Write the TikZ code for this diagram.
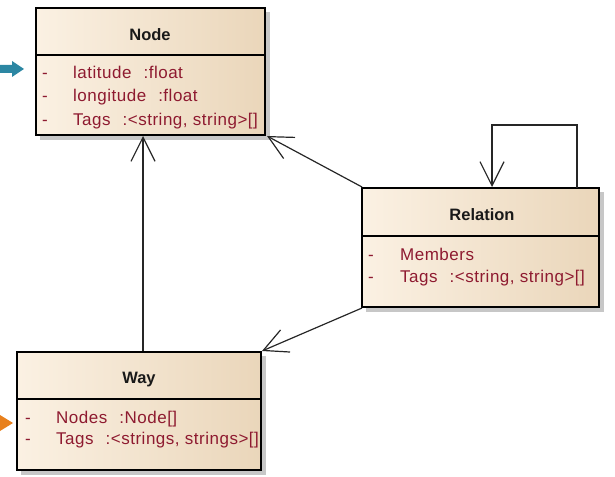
\documentclass[tikz,border=0pt]{standalone}
\usepackage{fontspec}
\setmainfont{Liberation Sans}
\newfontfamily\attrfont[LetterSpace=3]{Liberation Sans}
\usetikzlibrary{arrows.meta,calc}
\definecolor{attr}{HTML}{8E1A30}
\definecolor{boxL}{HTML}{FBF1E3}
\definecolor{boxR}{HTML}{EAD6BA}
\definecolor{teal}{HTML}{2C87A3}
\definecolor{orng}{HTML}{E8801C}
\newcommand{\gapsp}{\hspace{12pt}}
\tikzset{
  shadowbox/.style={fill=black!22, draw=none},
  hdr/.style={font=\fontsize{16.5}{19}\selectfont\bfseries, text=black!90, inner sep=0pt, anchor=base},
  attrtxt/.style={font=\attrfont\fontsize{17}{20}\selectfont, text=attr, anchor=base west, inner sep=0pt},
  assoc/.style={draw=black!85, line width=1.2pt, -{Straight Barb[length=24pt,width=24pt,line width=1.2pt]}},
}
\begin{document}
\begin{tikzpicture}[x=1pt,y=-1pt]
\useasboundingbox (0,0) rectangle (615,476);
% Node class
\fill[shadowbox] (40,12) rectangle (270,140);
\shade[left color=boxL, right color=boxR] (36,8) rectangle (265,135);
\draw[line width=1.3pt] (36,8) rectangle (265,135);
\draw[line width=1.3pt] (36,55) -- (265,55);
\node[hdr] (nodeH) at (150,41) {Node};
\node[attrtxt] (n1d) at (42,79) {-};
\node[attrtxt] (n1) at (73,79) {latitude\gapsp:float};
\node[attrtxt] (n2d) at (42,102) {-};
\node[attrtxt] (n2) at (73,102) {longitude\gapsp:float};
\node[attrtxt] (n3d) at (42,125) {-};
\node[attrtxt] (n3) at (73,125) {Tags\gapsp:<string, string>[]};
\coordinate (nodeBot) at (143,136);
\coordinate (nodeBR) at (267,136);
% Relation class
\fill[shadowbox] (366,192) rectangle (604,312);
\shade[left color=boxL, right color=boxR] (362,188) rectangle (599,307);
\draw[line width=1.3pt] (362,188) rectangle (599,307);
\draw[line width=1.3pt] (362,236) -- (599,236);
\node[hdr] (relH) at (482,220) {Relation};
\node[attrtxt] (r1d) at (368,260) {-};
\node[attrtxt] (r1) at (400,260) {Members};
\node[attrtxt] (r2d) at (368,282) {-};
\node[attrtxt] (r2) at (400,282) {Tags\gapsp:<string, string>[]};
\coordinate (relTL) at (362,187);
\coordinate (relBL) at (362,308);
\coordinate (relTopR) at (577,188);
\coordinate (relTopL) at (492,187);
\coordinate (loopR) at (577,125);
\coordinate (loopL) at (492,125);
% Way class
\fill[shadowbox] (21,356) rectangle (266,475);
\shade[left color=boxL, right color=boxR] (17,352) rectangle (261,470);
\draw[line width=1.3pt] (17,352) rectangle (261,470);
\draw[line width=1.3pt] (17,399) -- (261,399);
\node[hdr] (wayH) at (139,383) {Way};
\node[attrtxt] (w1d) at (25,423) {-};
\node[attrtxt] (w1) at (56,423) {Nodes\gapsp:Node[]};
\node[attrtxt] (w2d) at (25,444) {-};
\node[attrtxt] (w2) at (56,444) {Tags\gapsp:<strings, strings>[]};
\coordinate (wayTop) at (143,351);
\coordinate (wayTR) at (262,351);
% connectors
\draw[assoc] (wayTop) -- (nodeBot);
\draw[assoc] (relTL) -- (nodeBR);
\draw[assoc] (relBL) -- (wayTR);
\draw[assoc] (relTopR) -- (loopR) -- (loopL) -- (relTopL);
% side markers
\fill[teal] (0,65) -- (12,65) -- (12,61) -- (24,69) -- (12,77) -- (12,73) -- (0,73) -- cycle;
\fill[orng] (0,415) -- (13,423) -- (0,431) -- cycle;
\end{tikzpicture}
\end{document}
